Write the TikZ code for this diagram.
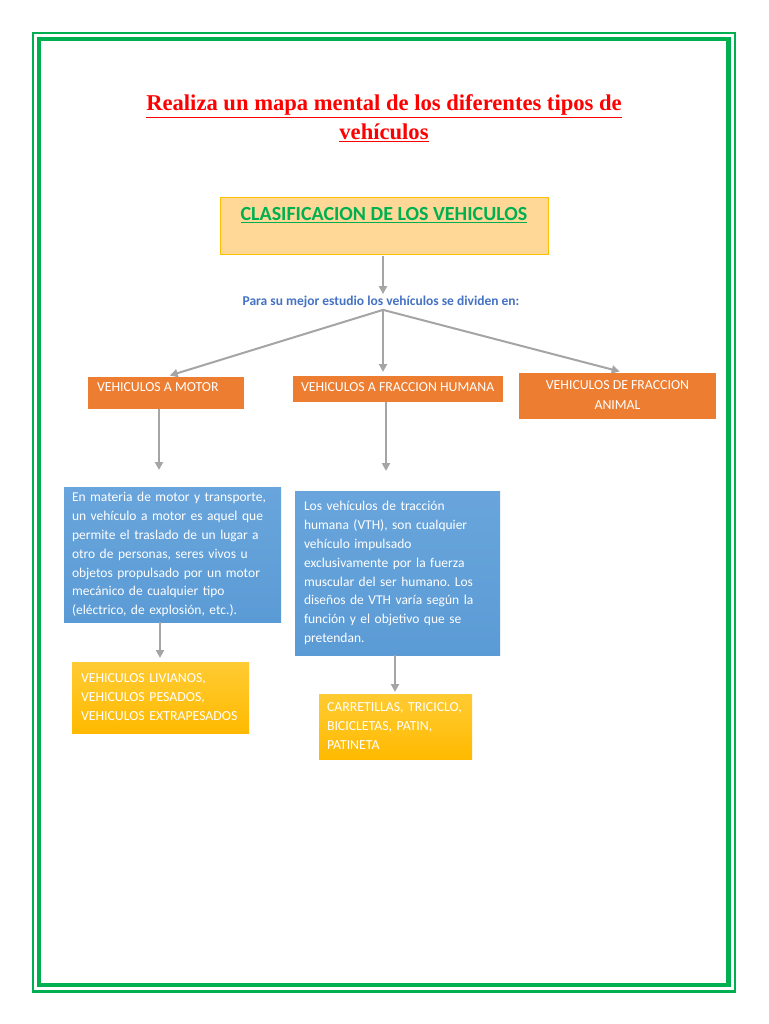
\documentclass[tikz,border=0pt]{standalone}
\usepackage{fontspec}
\setmainfont{Carlito}
\newfontfamily\titlefont{Liberation Serif}
\usetikzlibrary{arrows.meta}
\frenchspacing
\definecolor{framegreen}{HTML}{00B050}
\definecolor{boxorange}{HTML}{ED7D31}
\definecolor{boxblue}{HTML}{5B9BD5}
\definecolor{boxbluetop}{HTML}{69A5DC}
\definecolor{goldtop}{HTML}{FFCB33}
\definecolor{goldbot}{HTML}{FFBA00}
\definecolor{lightorange}{HTML}{FFD898}
\definecolor{lightorangeedge}{HTML}{FFC000}
\definecolor{titlered}{HTML}{FF0000}
\definecolor{subblue}{HTML}{4472C4}
\definecolor{arrowgray}{HTML}{A5A5A5}
\tikzset{
  every node/.style={inner sep=0pt, outer sep=0pt},
  arr/.style={draw=arrowgray, line width=2pt, -{Triangle[length=8pt,width=8pt]}},
  orangebox/.style={rectangle, fill=boxorange},
  bluebox/.style={rectangle, top color=boxbluetop, bottom color=boxblue, draw=none,
     align=left, font=\fontsize{13.5}{18.9}\selectfont, text=white, inner xsep=8pt},
  goldbox/.style={rectangle, top color=goldtop, bottom color=goldbot, draw=none,
     align=left, font=\fontsize{13.8}{19}\selectfont, text=white, inner xsep=9pt},
  whitetext/.style={text=white, font=\fontsize{13.8}{20}\selectfont},
}
\begin{document}
\begin{tikzpicture}[x=1pt,y=-1pt]
\useasboundingbox (0,0) rectangle (768,1024);
\fill[white] (0,0) rectangle (768,1024);
% frame
\draw[framegreen, line width=2.5pt] (33,33) rectangle (735,991.5);
\draw[framegreen, line width=4.5pt] (39,39) rectangle (728.5,985);
% title
\node (title1) at (384,106) {\titlefont\bfseries\color{titlered}\fontsize{22.6}{26}\selectfont\underline{Realiza un mapa mental de los diferentes tipos de}};
\node (title2) at (384,133) {\titlefont\bfseries\color{titlered}\fontsize{22.6}{26}\selectfont\underline{vehículos}};
% classification box
\node[rectangle, fill=lightorange, draw=lightorangeedge, line width=0.8pt, minimum width=328pt, minimum height=57pt] (clasif) at (384,225.5) {};
\node (clasiftxt) at (384,215) {\color{framegreen}\bfseries\fontsize{20}{22}\selectfont\underline{CLASIFICACION DE LOS VEHICULOS}};
% subtitle
\node (sub) at (381,302) {\color{subblue}\bfseries\fontsize{13.5}{16}\selectfont Para su mejor estudio los vehículos se dividen en:};
% orange boxes
\node[orangebox, minimum width=156pt, minimum height=32pt] (motor) at (166,393) {};
\node[whitetext, anchor=west] (motortxt) at (97,387) {VEHICULOS A MOTOR};
\node[orangebox, minimum width=210pt, minimum height=26pt] (humana) at (398,389) {};
\node[whitetext, anchor=west] (humanatxt) at (301,387) {VEHICULOS A FRACCION HUMANA};
\node[orangebox, minimum width=197pt, minimum height=46pt] (animal) at (617.5,396) {};
\node[whitetext, align=center] (animaltxt) at (617.5,395) {VEHICULOS DE FRACCION\\ANIMAL};
% blue boxes
\node[bluebox, minimum width=217pt, minimum height=135pt, text width=201pt] (desc1) at (172.5,554.5)
 {En materia de motor y transporte,\\un vehículo a motor es aquel que\\permite el traslado de un lugar a\\otro de personas, seres vivos u\\objetos propulsado por un motor\\mecánico de cualquier tipo\\(eléctrico, de explosión, etc.).};
\node[bluebox, minimum width=205pt, minimum height=164pt, text width=187pt, inner xsep=9pt] (desc2) at (397.5,573)
 {Los vehículos de tracción\\humana (VTH), son cualquier\\vehículo impulsado\\exclusivamente por la fuerza\\muscular del ser humano. Los\\diseños de VTH varía según la\\función y el objetivo que se\\pretendan.};
% gold boxes
\node[goldbox, minimum width=177pt, minimum height=71pt, text width=159pt] (gold1) at (160.5,697.5)
 {VEHICULOS LIVIANOS,\\VEHICULOS PESADOS,\\VEHICULOS EXTRAPESADOS};
\node[goldbox, minimum width=153pt, minimum height=65pt, text width=137pt, inner xsep=8pt] (gold2) at (395.5,726.5)
 {CARRETILLAS, TRICICLO,\\BICICLETAS, PATIN,\\PATINETA};
% connectors
\draw[arr, shorten <=2pt, shorten >=2pt] (clasif.south -| sub.north) ++(2,0) coordinate (c0) -- ([xshift=2pt]sub.north);
\coordinate (hub) at ([xshift=2pt,yshift=-2pt]sub.south);
\draw[arr, shorten >=5pt] (hub) -- ([xshift=-1pt]motor.north);
\draw[arr, shorten >=4pt] (hub) -- (hub |- humana.north);
\draw[arr, shorten >=6pt] (hub) -- ([xshift=8pt]animal.north);
\draw[arr, shorten >=17pt] ([xshift=-7pt]motor.south) -- ([xshift=-7pt]motor.south |- desc1.north);
\draw[arr, shorten >=20pt] ([xshift=-12pt]humana.south) -- ([xshift=-12pt]humana.south |- desc2.north);
\draw[arr, shorten >=4pt] ([xshift=-12.5pt]desc1.south) -- ([xshift=-12.5pt]desc1.south |- gold1.north);
\draw[arr, shorten >=2pt] ([xshift=-2.5pt]desc2.south) -- ([xshift=-2.5pt]desc2.south |- gold2.north);
\end{tikzpicture}
\end{document}
